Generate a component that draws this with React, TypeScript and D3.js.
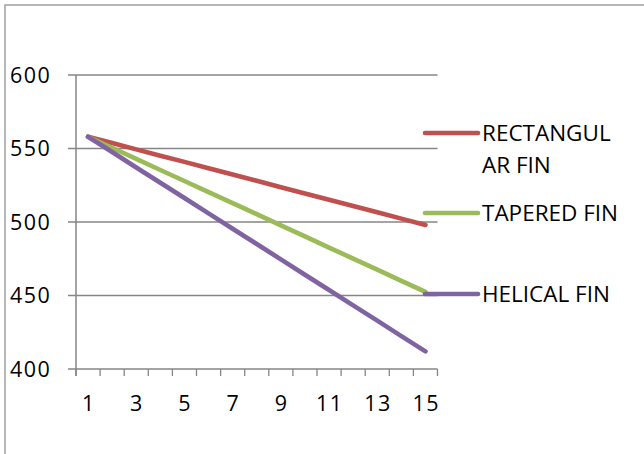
import React from "react";
import * as d3 from "d3";

const categories = ["1","2","3","4","5","6","7","8","9","10","11","12","13","14","15"];
const seriesNames = ["RECTANGULAR FIN", "TAPERED FIN", "HELICAL FIN"];
const legendLines = [["RECTANGUL", "AR FIN"], ["TAPERED FIN"], ["HELICAL FIN"]];
const rectangularFin = [558, 553.7, 549.4, 545.1, 540.9, 536.6, 532.3, 528, 523.7, 519.4, 515.1, 510.9, 506.6, 502.3, 498];
const taperedFin = [558, 550.5, 543, 535.4, 527.9, 520.3, 512.8, 505.3, 497.7, 490.2, 482.6, 475.1, 467.6, 460, 452.5];
const helicalFin = [558, 547.6, 537.1, 526.7, 516.3, 505.9, 495.4, 485, 474.6, 464.1, 453.7, 443.3, 432.9, 422.4, 412];
const yTicks = [400, 450, 500, 550, 600];
const xTickLabels = ["1","3","5","7","9","11","13","15"];
const colors = ["#C0504D", "#9BBB59", "#8064A2"];

const W = 644, H = 454;
const left = 76, right = 437.5, top = 75, bottom = 369;
const FONT = "'Open Sans', 'Liberation Sans', Arial, sans-serif";

export default function App() {
  const x = d3.scaleBand<string>().domain(categories).range([left, right]);
  const y = d3.scaleLinear().domain([400, 600]).range([bottom, top]);
  const allSeries = [rectangularFin, taperedFin, helicalFin];
  const line = d3.line<number>()
    .x((_, i) => (x(categories[i]) as number) + x.bandwidth() / 2)
    .y((d) => y(d));
  const legendY = [133, 213, 294];
  const tickXs = categories.map((c) => x(c) as number).concat([right]);

  return (
    <svg width={W} height={H} style={{ position: "absolute", left: 0, top: 0, background: "#fff" }}>
      <rect x={5} y={5} width={W + 10} height={H + 10} fill="#fff" stroke="#A0A0A0" strokeWidth={1.5} />
      {yTicks.filter((t) => t !== 400).map((t) => (
        <line key={t} x1={68} x2={right} y1={y(t)} y2={y(t)} stroke="#868686" strokeWidth={1.3} />
      ))}
      <line x1={left} x2={left} y1={top} y2={bottom + 7} stroke="#868686" strokeWidth={1.5} />
      <line x1={68} x2={right} y1={bottom} y2={bottom} stroke="#868686" strokeWidth={1.5} />
      {tickXs.map((tx, i) => (
        <line key={i} x1={tx} x2={tx} y1={bottom} y2={bottom + 7} stroke="#868686" strokeWidth={1.3} />
      ))}
      {yTicks.map((t) => (
        <text key={t} x={10} y={y(t)} dy="0.36em" textAnchor="start" fontFamily={FONT} fontSize={21.5} letterSpacing={1.4} fill="#000">{t}</text>
      ))}
      {xTickLabels.map((l) => (
        <text key={l} x={(x(l) as number) + x.bandwidth() / 2 + 0.7} y={403} dy="0.36em" textAnchor="middle" fontFamily={FONT} fontSize={21.5} letterSpacing={1.4} fill="#000">{l}</text>
      ))}
      {allSeries.map((s, i) => (
        <path key={seriesNames[i]} d={line(s) as string} fill="none" stroke={colors[i]} strokeWidth={4.6} strokeLinecap="round" strokeLinejoin="round" />
      ))}
      {legendLines.map((lines, i) => (
        <g key={i}>
          <line x1={425} x2={478} y1={legendY[i]} y2={legendY[i]} stroke={colors[i]} strokeWidth={4.6} strokeLinecap="round" />
          {lines.map((t, j) => (
            <text key={j} x={482} y={legendY[i] + j * 32} dy="0.36em" fontFamily={FONT} fontSize={22.5} fill="#000">{t}</text>
          ))}
        </g>
      ))}
    </svg>
  );
}
